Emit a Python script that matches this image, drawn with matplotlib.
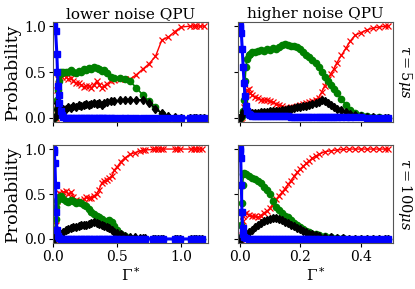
import numpy as np
import matplotlib
matplotlib.use("Agg")
import matplotlib.pyplot as plt

plt.rcParams['font.family'] = 'DejaVu Serif'
plt.rcParams['mathtext.fontset'] = 'dejavuserif'

col_titles = ["lower noise QPU", "higher noise QPU"]
row_labels = [r"$\tau = 5\mu s$", r"$\tau = 100\mu s$"]

# --- lower noise, tau = 5us ---
x_tl = [0, 0.01, 0.02, 0.03, 0.035, 0.04, 0.045, 0.05, 0.06, 0.07, 0.08, 0.1,
        0.12, 0.14, 0.16, 0.18, 0.2, 0.22, 0.24, 0.26, 0.28, 0.3, 0.32, 0.34,
        0.36, 0.38, 0.4, 0.42, 0.45, 0.48, 0.52, 0.56, 0.6, 0.65, 0.7, 0.75,
        0.8, 0.85, 0.9, 0.95, 1.0, 1.07, 1.1, 1.12, 1.15, 1.18]
red_tl = [0, 0, 0, 0.1, 0.3, 0.42, 0.45, 0.48, 0.5, 0.45, 0.48, 0.45,
          0.42, 0.44, 0.4, 0.38, 0.38, 0.36, 0.34, 0.35, 0.35, 0.33, 0.36, 0.4,
          0.36, 0.33, 0.35, 0.37, 0.4, 0.41, 0.42, 0.42, 0.42, 0.47, 0.53, 0.59,
          0.67, 0.85, 0.88, 0.94, 0.99, 1, 1, 1, 1, 1]
green_tl = [0, 0, 0.02, 0.1, 0.2, 0.3, 0.4, 0.47, 0.5, 0.49, 0.5, 0.5,
            0.5, 0.52, 0.5, 0.49, 0.51, 0.5, 0.53, 0.52, 0.54, 0.53, 0.55, 0.54,
            0.53, 0.51, 0.52, 0.49, 0.45, 0.43, 0.43, 0.42, 0.4, 0.33, 0.25, 0.18,
            0.12, 0.04, 0.01, 0, 0, 0, 0, 0, 0, 0]
black_tl = [0, 0, 0.02, 0.1, 0.16, 0.14, 0.12, 0.1, 0.07, 0.09, 0.1, 0.1,
            0.12, 0.11, 0.13, 0.12, 0.14, 0.13, 0.14, 0.15, 0.14, 0.15, 0.16, 0.15,
            0.16, 0.14, 0.16, 0.17, 0.18, 0.18, 0.19, 0.2, 0.2, 0.19, 0.2, 0.16,
            0.1, 0.05, 0.02, 0.01, 0, 0, 0, 0, 0, 0]
blue_tl = [1.0, 1.0, 0.95, 0.7, 0.5, 0.35, 0.25, 0.16, 0.07, 0.03, 0.01, 0,
           0, 0, 0, 0, 0, 0, 0, 0, 0, 0, 0, 0,
           0, 0, 0, 0, 0, 0, 0, 0, 0, 0, 0, 0,
           0, 0, 0, 0, 0, 0, 0, 0, 0, 0]

# --- higher noise, tau = 5us ---
x_tr = [0, 0.003, 0.006, 0.009, 0.012, 0.015, 0.018, 0.021, 0.025, 0.03,
        0.035, 0.04, 0.05, 0.06, 0.07, 0.08, 0.09, 0.1, 0.11, 0.12,
        0.13, 0.14, 0.15, 0.16, 0.17, 0.18, 0.19, 0.2, 0.21, 0.22,
        0.23, 0.24, 0.25, 0.26, 0.27, 0.28, 0.29, 0.3, 0.31, 0.32,
        0.335, 0.35, 0.365, 0.38, 0.4, 0.42, 0.44, 0.46, 0.48, 0.49]
red_tr = [0, 0, 0, 0.01, 0.05, 0.12, 0.2, 0.26, 0.3, 0.31,
          0.27, 0.25, 0.23, 0.22, 0.2, 0.19, 0.2, 0.18, 0.17, 0.15,
          0.14, 0.13, 0.11, 0.11, 0.12, 0.12, 0.13, 0.14, 0.15, 0.16,
          0.17, 0.18, 0.2, 0.22, 0.28, 0.35, 0.42, 0.48, 0.53, 0.6,
          0.68, 0.76, 0.84, 0.9, 0.93, 0.96, 0.98, 0.99, 1.0, 1.0]
green_tr = [0, 0, 0.005, 0.02, 0.08, 0.2, 0.4, 0.55, 0.64, 0.68,
            0.7, 0.72, 0.72, 0.73, 0.74, 0.73, 0.75, 0.74, 0.76, 0.75,
            0.77, 0.79, 0.8, 0.79, 0.78, 0.78, 0.77, 0.75, 0.72, 0.69,
            0.66, 0.63, 0.6, 0.55, 0.5, 0.45, 0.4, 0.36, 0.32, 0.27,
            0.21, 0.14, 0.09, 0.05, 0.03, 0.02, 0.01, 0.005, 0, 0]
black_tr = [0, 0, 0.01, 0.03, 0.06, 0.08, 0.09, 0.08, 0.07, 0.06,
            0.055, 0.05, 0.05, 0.055, 0.06, 0.06, 0.065, 0.07, 0.075, 0.08,
            0.08, 0.085, 0.09, 0.1, 0.1, 0.11, 0.12, 0.12, 0.13, 0.13,
            0.14, 0.15, 0.16, 0.17, 0.19, 0.18, 0.16, 0.14, 0.12, 0.1,
            0.09, 0.06, 0.04, 0.03, 0.02, 0.01, 0.005, 0, 0, 0]
blue_tr = [1.0, 0.98, 0.92, 0.75, 0.55, 0.38, 0.24, 0.13, 0.07, 0.04,
           0.03, 0.025, 0.02, 0.02, 0.02, 0.018, 0.018, 0.017, 0.017, 0.016,
           0.016, 0.015, 0.015, 0.015, 0.014, 0.014, 0.013, 0.013, 0.012, 0.012,
           0.012, 0.011, 0.011, 0.011, 0.01, 0.01, 0.01, 0.01, 0.009, 0.009,
           0.008, 0.008, 0.007, 0.006, 0.005, 0.004, 0.003, 0.002, 0.001, 0.001]

# --- lower noise, tau = 100us ---
x_bl = [0, 0.005, 0.01, 0.015, 0.02, 0.025, 0.03, 0.04, 0.05, 0.06,
        0.08, 0.1, 0.12, 0.14, 0.16, 0.18, 0.2, 0.22, 0.24, 0.26,
        0.28, 0.3, 0.32, 0.34, 0.36, 0.38, 0.4, 0.42, 0.44, 0.46,
        0.48, 0.5, 0.53, 0.56, 0.6, 0.64, 0.68, 0.7, 0.72, 0.78,
        0.8, 0.82, 0.84, 0.86, 0.95, 0.97, 0.99, 1.08, 1.1, 1.12, 1.14, 1.16]
red_bl = [0, 0, 0, 0.05, 0.15, 0.3, 0.42, 0.48, 0.51, 0.5,
          0.52, 0.53, 0.5, 0.52, 0.47, 0.43, 0.42, 0.41, 0.44, 0.47,
          0.45, 0.46, 0.48, 0.5, 0.55, 0.62, 0.65, 0.66, 0.68, 0.7,
          0.77, 0.8, 0.86, 0.9, 0.94, 0.96, 0.98, 0.985, 0.99, 0.995,
          1, 1, 1, 1, 1, 1, 1, 1, 1, 1, 1, 1]
green_bl = [0, 0, 0.02, 0.1, 0.22, 0.35, 0.42, 0.45, 0.47, 0.48,
            0.44, 0.42, 0.41, 0.43, 0.42, 0.4, 0.41, 0.4, 0.38, 0.37,
            0.33, 0.3, 0.28, 0.26, 0.24, 0.22, 0.2, 0.2, 0.21, 0.19,
            0.14, 0.1, 0.06, 0.03, 0.01, 0.005, 0, 0, 0, 0,
            0, 0, 0, 0, 0, 0, 0, 0, 0, 0, 0, 0]
black_bl = [0, 0, 0, 0.01, 0.02, 0.03, 0.03, 0.03, 0.04, 0.05,
            0.08, 0.1, 0.11, 0.12, 0.13, 0.13, 0.14, 0.15, 0.15, 0.16,
            0.17, 0.18, 0.19, 0.18, 0.17, 0.16, 0.14, 0.13, 0.12, 0.1,
            0.08, 0.07, 0.05, 0.03, 0.02, 0.02, 0.01, 0.01, 0.01, 0,
            0, 0, 0, 0, 0, 0, 0, 0, 0, 0, 0, 0]
blue_bl = [1.0, 0.99, 0.97, 0.85, 0.6, 0.3, 0.1, 0.03, 0.01, 0,
           0, 0, 0, 0, 0, 0, 0, 0, 0, 0,
           0, 0, 0, 0, 0, 0, 0, 0, 0, 0,
           0, 0, 0, 0, 0, 0, 0, 0, 0, 0,
           0, 0, 0, 0, 0, 0, 0, 0, 0, 0, 0, 0]

# --- higher noise, tau = 100us ---
x_br = [0, 0.002, 0.004, 0.006, 0.008, 0.01, 0.013, 0.016, 0.02, 0.03,
        0.04, 0.05, 0.06, 0.07, 0.08, 0.09, 0.1, 0.11, 0.12, 0.13,
        0.14, 0.15, 0.16, 0.17, 0.18, 0.19, 0.2, 0.21, 0.22, 0.23,
        0.24, 0.25, 0.26, 0.28, 0.3, 0.32, 0.34, 0.36, 0.38, 0.4,
        0.42, 0.44, 0.46, 0.48, 0.49]
red_br = [0, 0, 0, 0.02, 0.1, 0.2, 0.26, 0.28, 0.29, 0.27,
          0.25, 0.25, 0.24, 0.26, 0.29, 0.31, 0.34, 0.39, 0.44, 0.48,
          0.52, 0.56, 0.61, 0.65, 0.7, 0.74, 0.78, 0.81, 0.84, 0.87,
          0.9, 0.92, 0.94, 0.97, 0.98, 0.99, 0.995, 1, 1, 1,
          1, 1, 1, 1, 1]
green_br = [0, 0, 0.02, 0.15, 0.4, 0.6, 0.72, 0.73, 0.72, 0.7,
            0.68, 0.67, 0.64, 0.62, 0.58, 0.54, 0.5, 0.42, 0.36, 0.32,
            0.29, 0.26, 0.24, 0.21, 0.18, 0.15, 0.13, 0.11, 0.09, 0.08,
            0.06, 0.05, 0.04, 0.03, 0.02, 0.01, 0.01, 0.005, 0, 0,
            0, 0, 0, 0, 0]
black_br = [0, 0, 0, 0.005, 0.01, 0.02, 0.03, 0.04, 0.05, 0.08,
            0.1, 0.13, 0.16, 0.18, 0.2, 0.21, 0.22, 0.23, 0.23, 0.22,
            0.21, 0.19, 0.18, 0.16, 0.14, 0.12, 0.11, 0.09, 0.08, 0.06,
            0.05, 0.04, 0.03, 0.02, 0.02, 0.01, 0.01, 0, 0, 0,
            0, 0, 0, 0, 0]
blue_br = [1.0, 0.98, 0.9, 0.6, 0.3, 0.12, 0.05, 0.02, 0.01, 0,
           0, 0, 0, 0, 0, 0, 0, 0, 0, 0,
           0, 0, 0, 0, 0, 0, 0, 0, 0, 0,
           0, 0, 0, 0, 0, 0, 0, 0, 0, 0,
           0, 0, 0, 0, 0]

panels = [
    [(x_tl, red_tl, green_tl, black_tl, blue_tl), (x_tr, red_tr, green_tr, black_tr, blue_tr)],
    [(x_bl, red_bl, green_bl, black_bl, blue_bl), (x_br, red_br, green_br, black_br, blue_br)],
]
xlims = [(0, 1.21), (-0.005, 0.505)]

W, H = 415, 289
fig = plt.figure(figsize=(W / 100, H / 100), dpi=100)

# axes boxes in pixels: (left, top, right, bottom)
boxes = [[(53, 22, 208, 122), (238, 22, 393, 122)],
         [(53, 145, 208, 243), (238, 145, 393, 243)]]

for r in range(2):
    for c in range(2):
        l, t, rr, b = boxes[r][c]
        ax = fig.add_axes([l / W, 1 - b / H, (rr - l) / W, (b - t) / H])
        x, red, green, black, blue = panels[r][c]
        ax.plot(x, red, color='red', marker='x', ms=4, lw=1, mew=0.9)
        ax.plot(x, green, color='green', marker='o', ms=4.5, lw=1.2)
        ax.plot(x, black, color='black', marker='d', ms=4.5, lw=1.2)
        ax.plot(x, blue, color='blue', marker='s', ms=4.5, lw=2.2)
        ax.set_xlim(*xlims[c])
        ax.set_ylim(-0.045, 1.045)
        ax.set_yticks([0, 0.5, 1.0])
        ax.tick_params(labelsize=10, length=3, width=0.8, pad=2)
        for s in ax.spines.values():
            s.set_color('#555555')
        if c == 0:
            ax.set_ylabel("Probability", fontsize=12.5, labelpad=2)
        else:
            ax.set_yticklabels([])
            ax.text(1.02, 0.5, row_labels[r], transform=ax.transAxes,
                    rotation=270, va='center', ha='left', fontsize=10.5)
        if r == 0:
            ax.set_title(col_titles[c], fontsize=11, pad=3)
            ax.set_xticklabels([])
        else:
            ax.set_xlabel(r"$\Gamma^*$", fontsize=11, labelpad=1)
            if c == 0:
                ax.set_xticks([0, 0.5, 1.0])
            else:
                ax.set_xticks([0, 0.2, 0.4])

fig.savefig("out.png", dpi=100)
